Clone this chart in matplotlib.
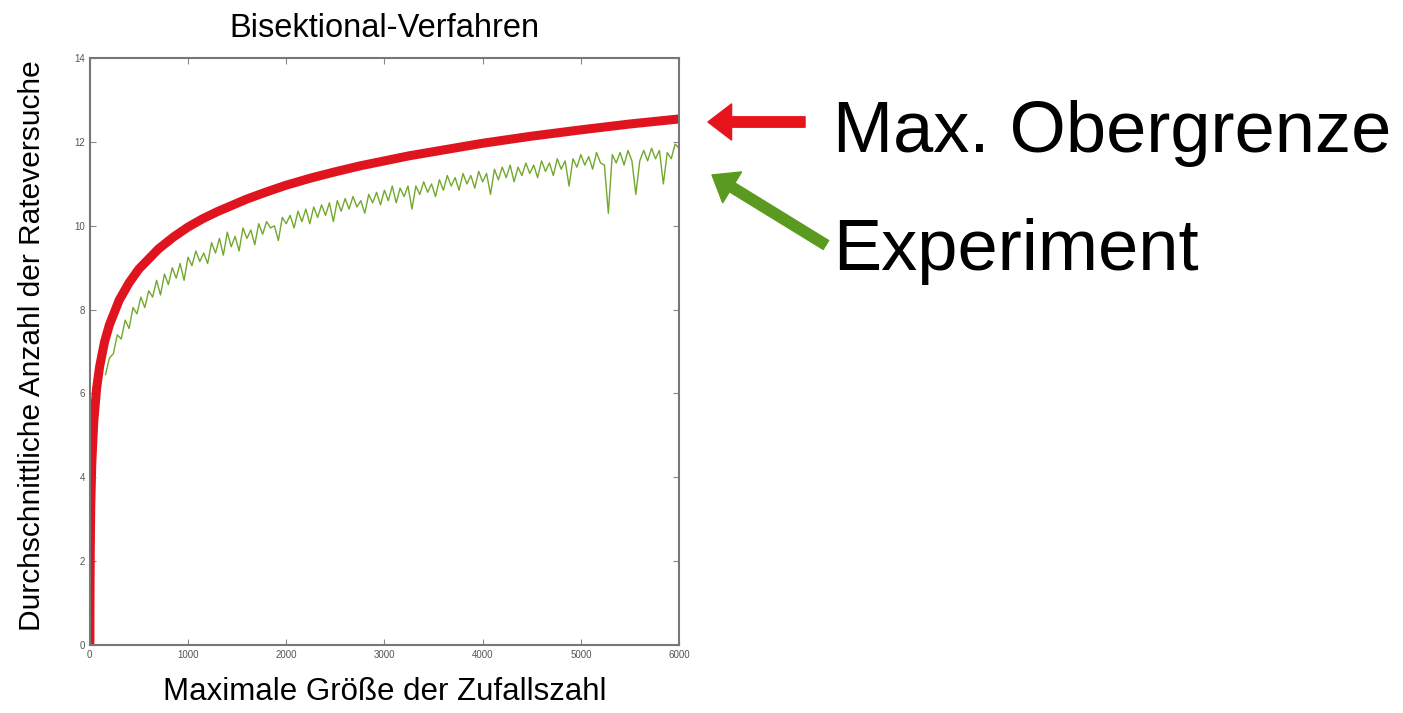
import numpy as np
from matplotlib import pyplot as plt

# upper bound curve
bound_x = [1, 2, 3, 5, 10, 20, 40, 70, 100, 150, 200, 300, 400, 500, 700, 850,
           1000, 1150, 1300, 1600, 1800, 2000, 2250, 2500, 2750, 3000, 3250,
           3500, 4000, 4500, 5000, 5500, 6000]
bound_y = [0.0, 1.0, 1.58, 2.32, 3.32, 4.32, 5.32, 6.13, 6.64, 7.23, 7.64, 8.23,
           8.64, 8.97, 9.45, 9.73, 9.97, 10.17, 10.34, 10.64, 10.81, 10.97, 11.14,
           11.29, 11.43, 11.55, 11.67, 11.77, 11.97, 12.14, 12.29, 12.43, 12.55]

# experiment, one value every 40 from 160 to 6000
exp_x = np.arange(160, 6001, 40)
exp_y = [6.45, 6.85, 6.95, 7.40, 7.30, 7.75, 7.55, 8.05, 7.90, 8.30,
         8.05, 8.45, 8.30, 8.70, 8.35, 8.85, 8.60, 9.00, 8.75, 9.10,
         8.70, 9.25, 9.05, 9.40, 9.15, 9.35, 9.10, 9.60, 9.35, 9.70,
         9.30, 9.85, 9.50, 9.75, 9.40, 9.95, 9.70, 9.90, 9.55, 10.05,
         9.80, 10.10, 9.95, 10.00, 9.65, 10.20, 10.05, 10.25, 9.95, 10.35,
         10.10, 10.40, 10.05, 10.45, 10.20, 10.50, 10.25, 10.55, 10.10, 10.60,
         10.35, 10.65, 10.40, 10.70, 10.45, 10.60, 10.30, 10.75, 10.55, 10.80,
         10.50, 10.85, 10.60, 10.95, 10.55, 10.90, 10.70, 10.95, 10.40, 10.95,
         10.75, 11.05, 10.80, 11.00, 10.70, 11.10, 10.85, 11.20, 10.95, 11.15,
         10.85, 11.25, 11.00, 11.20, 10.90, 11.30, 11.05, 11.25, 10.75, 11.35,
         11.10, 11.40, 11.15, 11.45, 11.05, 11.40, 11.20, 11.50, 11.25, 11.45,
         11.15, 11.55, 11.30, 11.50, 11.20, 11.60, 11.35, 11.55, 10.95, 11.60,
         11.40, 11.70, 11.45, 11.65, 11.35, 11.75, 11.50, 11.45, 10.30, 11.70,
         11.50, 11.75, 11.45, 11.80, 11.55, 10.75, 11.55, 11.80, 11.55, 11.85,
         11.60, 11.80, 11.00, 11.75, 11.60, 11.95, 11.85]

x_ticks = [0, 1000, 2000, 3000, 4000, 5000, 6000]
y_ticks = [0, 2, 4, 6, 8, 10, 12, 14]

plt.rcParams['font.family'] = ['Liberation Sans', 'DejaVu Sans']

fig = plt.figure(figsize=(14.03, 7.13), dpi=100)
ax = fig.add_axes([0.064, 0.0954, 0.42, 0.823])

ax.plot(exp_x, exp_y, color='#72a82c', lw=1.0)
ax.plot(bound_x, bound_y, color='#e0141e', lw=6.5, solid_capstyle='butt')

ax.set_xlim(0, 6000)
ax.set_ylim(0, 14)
ax.set_xticks(x_ticks)
ax.set_yticks(y_ticks)
ax.tick_params(direction='in', top=True, right=True, labelsize=7,
               labelcolor='#555555', color='#888888', length=4)
for s in ax.spines.values():
    s.set_color('#777777')
    s.set_linewidth(1.5)

ax.set_title('Bisektional-Verfahren', fontsize=23.5, pad=15)
ax.set_xlabel('Maximale Größe der Zufallszahl', fontsize=22.5, labelpad=12)
ax.set_ylabel('Durchschnittliche Anzahl der Rateversuche', fontsize=21.5)
ax.yaxis.set_label_coords(-0.075, 0.51)

# side notes with arrows
fig.text(0.594, 0.7868, 'Max. Obergrenze', fontsize=52, va='baseline')
fig.text(0.594, 0.6213, 'Experiment', fontsize=52, va='baseline')

ax.annotate('', xy=(0.5046, 0.8289), xytext=(0.5738, 0.8289),
            xycoords='figure fraction', textcoords='figure fraction',
            arrowprops=dict(arrowstyle='simple,head_width=2.6,head_length=1.7,tail_width=0.75',
                            color='#e8141c', shrinkA=0, shrinkB=0))
ax.annotate('', xy=(0.5075, 0.7546), xytext=(0.5887, 0.6564),
            xycoords='figure fraction', textcoords='figure fraction',
            arrowprops=dict(arrowstyle='simple,head_width=2.6,head_length=1.7,tail_width=0.75',
                            color='#5b9a21', shrinkA=0, shrinkB=0))

fig.savefig('out.png')
